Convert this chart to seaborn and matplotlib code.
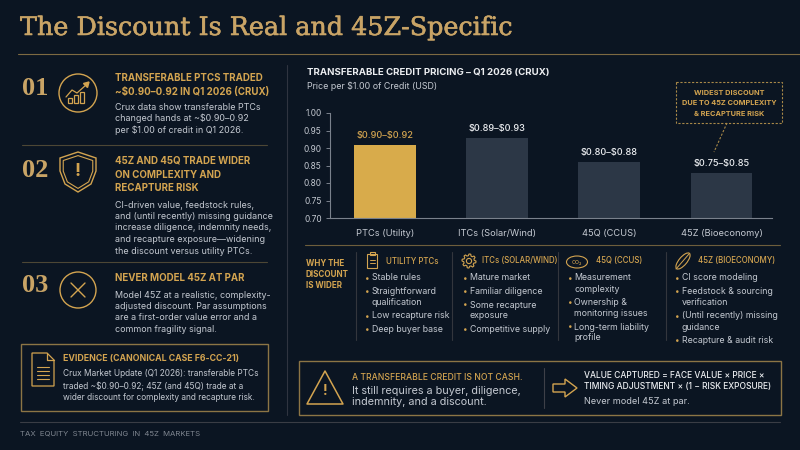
import numpy as np
import matplotlib
matplotlib.use("Agg")
import matplotlib.pyplot as plt
import seaborn as sns
from matplotlib.patches import Rectangle, Circle, Polygon, Ellipse
import matplotlib.patheffects as pe

# chart data
categories = ["PTCs (Utility)", "ITCs (Solar/Wind)", "45Q (CCUS)", "45Z (Bioeconomy)"]
price_bar = [0.91, 0.93, 0.86, 0.83]
price_labels = ["$0.90–$0.92", "$0.89–$0.93", "$0.80–$0.88", "$0.75–$0.85"]
y_ticks = [0.70, 0.75, 0.80, 0.85, 0.90, 0.95, 1.00]

# left column text
point_numbers = ["01", "02", "03"]
point_heads = [
    ["TRANSFERABLE PTCS TRADED", "~$0.90–0.92 IN Q1 2026 (CRUX)"],
    ["45Z AND 45Q TRADE WIDER", "ON COMPLEXITY AND", "RECAPTURE RISK"],
    ["NEVER MODEL 45Z AT PAR"],
]
point_bodies = [
    ["Crux data show transferable PTCs", "changed hands at ~$0.90–0.92", "per $1.00 of credit in Q1 2026."],
    ["CI-driven value, feedstock rules,", "and (until recently) missing guidance",
     "increase diligence, indemnity needs,", "and recapture exposure—widening",
     "the discount versus utility PTCs."],
    ["Model 45Z at a realistic, complexity-", "adjusted discount. Par assumptions",
     "are a first-order value error and a", "common fragility signal."],
]
evidence_head = "EVIDENCE (CANONICAL CASE F6-CC-21)"
evidence_body = ["Crux Market Update (Q1 2026): transferable PTCs",
                 "traded ~$0.90–0.92; 45Z (and 45Q) trade at a",
                 "wider discount for complexity and recapture risk."]

# why-wider table
why_heads = ["UTILITY PTCs", "ITCs (SOLAR/WIND)", "45Q (CCUS)", "45Z (BIOECONOMY)"]
why_items = [
    [["Stable rules"], ["Straightforward", "qualification"], ["Low recapture risk"], ["Deep buyer base"]],
    [["Mature market"], ["Familiar diligence"], ["Some recapture", "exposure"], ["Competitive supply"]],
    [["Measurement", "complexity"], ["Ownership &", "monitoring issues"], ["Long-term liability", "profile"]],
    [["CI score modeling"], ["Feedstock & sourcing", "verification"], ["(Until recently) missing", "guidance"],
     ["Recapture & audit risk"]],
]

BG = "#0b1522"
GOLD = "#d3a450"
TITLE_GOLD = "#c9a466"
BAR_GOLD = "#d8ab4b"
BAR_GREY = "#2c3746"
WHITE = "#eceef1"
LIGHT = "#c4c9d1"
GREY = "#7f8690"
DIM = "#4d4735"
AXIS = "#7a818c"

sns.set_theme(style="dark")
plt.rcParams["font.family"] = ["Inter", "DejaVu Sans"]
plt.rcParams["text.parse_math"] = False
SERIF = ["DejaVu Serif"]

fig = plt.figure(figsize=(8, 4.5), dpi=100, facecolor=BG)
bg = fig.add_axes([0, 0, 1, 1], zorder=0)
bg.set_xlim(0, 800)
bg.set_ylim(450, 0)
bg.axis("off")


def T(x, y, s, size=6.4, color=LIGHT, weight="normal", ha="left", va="center", family=None, **kw):
    return bg.text(x, y, s, fontsize=size, color=color, fontweight=weight, ha=ha, va=va,
                   family=family or plt.rcParams["font.family"], **kw)


def hline(y, x0, x1, color=DIM, lw=0.8):
    bg.plot([x0, x1], [y, y], color=color, lw=lw)


def vline(x, y0, y1, color=DIM, lw=0.8):
    bg.plot([x, x], [y0, y1], color=color, lw=lw)


# title
T(20, 35, "The Discount Is Real and 45Z-Specific", size=18.3, color=TITLE_GOLD, va="baseline",
  family=SERIF, path_effects=[pe.withStroke(linewidth=0.4, foreground=TITLE_GOLD)])
hline(54, 18, 800, color="#7d6a42", lw=0.8)

# left column
num_y = [95, 177, 292]
head_y = [78, 161, 278]
body_y = [107, 205, 295]
for i in range(3):
    T(22, num_y[i], point_numbers[i], size=19, color=TITLE_GOLD, va="baseline",
      family=["Liberation Serif"], weight="bold")
    for j, line in enumerate(point_heads[i]):
        T(115, head_y[i] + j * 13.6, line, size=7.0, color=GOLD, weight="bold")
    for j, line in enumerate(point_bodies[i]):
        T(115, body_y[i] + j * 11.5, line, size=6.45, color=LIGHT)
hline(145, 22, 267)
hline(262, 22, 267)
vline(287, 65, 415, color="#2f3440")

# icons of left column
gc = GOLD
bg.add_patch(Circle((78, 93), 19, fill=False, ec=gc, lw=1.0))
for k, h in enumerate([5, 8, 11]):
    bg.add_patch(Rectangle((68 + k * 6, 103 - h), 4, h, fill=False, ec=gc, lw=0.9))
bg.plot([66, 72, 77, 86], [97, 90, 93, 85], color=gc, lw=0.9)
bg.add_patch(Polygon([[89, 82], [83.5, 83.5], [87.5, 87.5]], closed=True, color=gc))
shield = np.array([[78, 152], [96, 158], [96, 171], [91, 184], [78, 192], [65, 184], [60, 171], [60, 158]])
bg.add_patch(Polygon(shield, closed=True, fill=False, ec=gc, lw=1.0))
inner = (shield - [78, 172]) * 0.82 + [78, 172]
bg.add_patch(Polygon(inner, closed=True, fill=False, ec=gc, lw=0.8))
T(78, 172, "!", size=13, color=gc, weight="bold", ha="center")
bg.add_patch(Circle((78, 290), 18, fill=False, ec=gc, lw=1.0))
bg.plot([71, 85], [283, 297], color=gc, lw=1.0)
bg.plot([85, 71], [283, 297], color=gc, lw=1.0)

# evidence box
bg.add_patch(Rectangle((21, 344), 247, 67, fill=False, ec="#8c7545", lw=1.0))
doc = [[32, 353], [47, 353], [54, 360], [54, 386], [32, 386]]
bg.add_patch(Polygon(doc, closed=True, fill=False, ec=gc, lw=0.9))
bg.plot([47, 47, 54], [353, 360, 360], color=gc, lw=0.9)
for yy in [367, 371, 375, 379]:
    bg.plot([37, 49], [yy, yy], color=gc, lw=0.8)
T(63, 358, evidence_head, size=6.3, color=GOLD, weight="bold")
for j, line in enumerate(evidence_body):
    T(63, 374 + j * 12, line, size=6.0, color=LIGHT)

hline(422, 20, 780, color="#3a3d45")
T(20, 434, "TAX  EQUITY  STRUCTURING  IN  45Z  MARKETS", size=5.6, color=GREY)

# chart header
T(307, 73, "TRANSFERABLE CREDIT PRICING – Q1 2026 (CRUX)", size=6.95, color=WHITE, weight="bold")
T(307, 86, "Price per $1.00 of Credit (USD)", size=6.4, color=LIGHT)

# bar chart
ax = fig.add_axes([330 / 800, 1 - 218 / 450, 442 / 800, 105 / 450], zorder=2)
ax.patch.set_alpha(0)
sns.barplot(x=categories, y=price_bar, hue=categories, legend=False, width=0.55, saturation=1,
            palette=[BAR_GOLD, BAR_GREY, BAR_GREY, BAR_GREY], linewidth=0, ax=ax)
ax.set_ylim(0.70, 1.00)
ax.set_xlim(-0.49, 3.45)
ax.set_yticks(y_ticks)
ax.set_yticklabels([f"{v:.2f}" for v in y_ticks])
ax.grid(False)
for s in ["top", "right"]:
    ax.spines[s].set_visible(False)
for s in ["left", "bottom"]:
    ax.spines[s].set_visible(True)
    ax.spines[s].set_color(AXIS)
    ax.spines[s].set_linewidth(0.8)
ax.tick_params(axis="y", left=True, length=3, width=0.7, color=AXIS, labelcolor=LIGHT, labelsize=6.0, pad=3)
ax.tick_params(axis="x", bottom=False, length=0, labelcolor=LIGHT, labelsize=6.7, pad=8)
ax.set_xlabel("")
ax.set_ylabel("")
for i, (v, lab) in enumerate(zip(price_bar, price_labels)):
    ax.text(i, v + 0.013, lab, ha="center", va="bottom", fontsize=6.6,
            color=GOLD if i == 0 else WHITE, fontweight="medium")

# annotation for 45Z
bg.add_patch(Rectangle((676, 82), 106, 41, fill=False, ec="#a88848", lw=0.8, ls=(0, (2, 1.5))))
for j, line in enumerate(["WIDEST DISCOUNT", "DUE TO 45Z COMPLEXITY", "& RECAPTURE RISK"]):
    T(729, 93 + j * 10.4, line, size=5.3, color=GOLD, weight="bold", ha="center")
bg.plot([727, 714], [123, 152], color="#a88848", lw=0.8, ls=(0, (2, 1.5)))

# why the discount is wider
hline(245, 305, 780, color="#6e5e3c")
for j, line in enumerate(["WHY THE", "DISCOUNT", "IS WIDER"]):
    T(306, 264 + j * 10.5, line, size=5.8, color=GOLD, weight="bold")
for xv in [356, 452, 558, 666]:
    vline(xv, 252, 340, color="#33363d")

col_head_x = [386, 482, 596, 698]
col_bullet_x = [365, 463, 568, 675]
for c in range(4):
    T(col_head_x[c], 261, why_heads[c], size=5.7, color=GOLD, weight="medium")
    y = 278
    for item in why_items[c]:
        T(col_bullet_x[c], y, "•", size=6.0, color=GOLD)
        for k, line in enumerate(item):
            T(col_bullet_x[c] + 6.5, y + k * 11, line, size=6.35, color=LIGHT)
        y += 11 * len(item) + 2.5

# table icons
bg.add_patch(Rectangle((367, 254), 10, 14, fill=False, ec=gc, lw=0.8))
bg.add_patch(Rectangle((369.5, 252), 5, 3, fill=False, ec=gc, lw=0.8))
for yy in [259.5, 263]:
    bg.plot([369.5, 374.5], [yy, yy], color=gc, lw=0.7)
ang = np.linspace(0, 2 * np.pi, 49)[:-1]
rad = np.where((np.arange(48) // 3) % 2 == 0, 7.0, 5.3)
bg.add_patch(Polygon(np.c_[469 + rad * np.cos(ang), 261 + rad * np.sin(ang)], closed=True, fill=False, ec=gc, lw=0.8))
bg.add_patch(Circle((469, 261), 2.6, fill=False, ec=gc, lw=0.8))
bg.add_patch(Ellipse((577, 262), 21, 12, fill=False, ec=gc, lw=0.8))
T(577, 262.5, "CO₂", size=3.8, color=gc, ha="center")
bg.add_patch(Ellipse((683, 261), 20, 8, angle=-50, fill=False, ec=gc, lw=0.8))
bg.plot([676, 689], [269, 254], color=gc, lw=0.7)

# bottom callout
bg.add_patch(Rectangle((299, 361), 482, 54, fill=False, ec="#8c7545", lw=1.0))
bg.add_patch(Polygon([[325, 371], [343, 404], [307, 404]], closed=True, fill=False, ec=gc, lw=1.1,
                     joinstyle="round"))
T(325, 391, "!", size=10, color=gc, weight="bold", ha="center")
T(352, 377, "A TRANSFERABLE CREDIT IS NOT CASH.", size=6.2, color=GOLD, weight="medium")
T(352, 391, "It still requires a buyer, diligence,", size=7.8, color=LIGHT)
T(352, 402, "indemnity, and a discount.", size=7.8, color=LIGHT)
vline(544, 368, 408, color="#3e4048")
arrow = [[553, 384], [565, 384], [565, 379], [577, 388], [565, 397], [565, 392], [553, 392]]
bg.add_patch(Polygon(arrow, closed=True, fill=False, ec=gc, lw=1.0))
T(584, 376, "VALUE CAPTURED = FACE VALUE × PRICE ×", size=6.1, color=WHITE, weight="medium")
T(584, 387, "TIMING ADJUSTMENT × (1 − RISK EXPOSURE)", size=6.1, color=WHITE, weight="medium")
T(584, 402, "Never model 45Z at par.", size=6.6, color=LIGHT)

fig.savefig("out.png", dpi=100, facecolor=BG)
